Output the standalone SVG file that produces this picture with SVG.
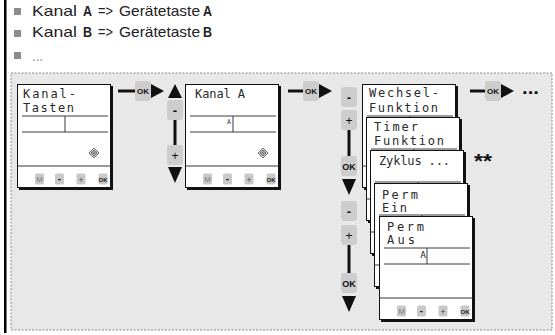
<svg xmlns="http://www.w3.org/2000/svg" width="555" height="335" viewBox="0 0 555 335">
<style>
.txt{font-family:"Liberation Sans",Arial,sans-serif;font-size:14.5px;font-weight:normal;fill:#222}
.b{font-weight:bold}
.bul{fill:#8c8c8c}
.lt{font-family:"DejaVu Sans Mono","Liberation Mono",monospace;font-size:12px;fill:#2a2a2a}
.ln{stroke:#3a3a3a;stroke-width:1;fill:none}
.btn{fill:#c9c9c9}
.bl{font-family:"Liberation Sans",Arial,sans-serif;font-size:8.5px;text-anchor:middle;fill:#222}
.badge{fill:#cdcdcd}
.bt{font-family:"Liberation Sans",Arial,sans-serif;text-anchor:middle;fill:#111;font-weight:bold}
.conn{stroke:#111;stroke-width:3;fill:none}
.tri{fill:#111}
</style>
<defs>
<g id="lcdBody">
<rect x="2" y="2" width="94" height="104" fill="#111"/>
<rect x="0.5" y="0.5" width="93" height="103" fill="#fff" stroke="#111" stroke-width="1"/>
<line class="ln" x1="5" y1="32" x2="91" y2="32"/>
<line class="ln" x1="5" y1="48" x2="91" y2="48"/>
<line class="ln" x1="48" y1="32" x2="48" y2="48"/>
<line x1="0" y1="82" x2="94" y2="82" stroke="#333" stroke-width="1.2"/>
</g>
<g id="lcdBtns">
<rect class="btn" x="18" y="89.5" width="9" height="11" rx="1.5"/>
<rect class="btn" x="38" y="89.5" width="9" height="11" rx="1.5"/>
<rect class="btn" x="59.5" y="89.5" width="9" height="11" rx="1.5"/>
<rect class="btn" x="81.5" y="89.5" width="9" height="11" rx="1.5"/>
<text class="bl" x="22.5" y="98" style="fill:#777;font-size:7.5px">M</text>
<text class="bl" x="42.5" y="98" style="font-weight:bold;font-size:10px">-</text>
<text class="bl" x="64" y="98.5" style="fill:#444">+</text>
<text class="bl" x="86" y="97.5" style="font-size:6px;font-weight:bold">OK</text>
</g>
<g id="diamond" fill="none" stroke="#333" stroke-width="0.7">
<path d="M0,-5 L5,0 L0,5 L-5,0 Z"/>
<circle r="2.4"/>
<path d="M0,-3.5 V3.5 M-3.5,0 H3.5"/>
</g>
<rect id="badge" class="badge" width="16" height="20" rx="3"/>
<path id="triR" class="tri" d="M0,-7 L13,0 L0,7 Z"/>
<path id="triU" class="tri" d="M-7,0 L0,-14 L7,0 Z"/>
<path id="triD" class="tri" d="M-7,0 L0,16 L7,0 Z"/>
</defs>

<rect x="4" y="0" width="2.5" height="333" fill="#000"/>

<g id="bullets">
<rect class="bul" x="14" y="8" width="7" height="7"/>
<text class="txt" x="32" y="16" textLength="45" lengthAdjust="spacingAndGlyphs">Kanal</text>
<text class="txt b" x="83" y="16" textLength="9" lengthAdjust="spacingAndGlyphs">A</text>
<text class="txt" x="98" y="16" textLength="15" lengthAdjust="spacingAndGlyphs">=&gt;</text>
<text class="txt" x="119" y="16" textLength="81" lengthAdjust="spacingAndGlyphs">Gerätetaste</text>
<text class="txt b" x="203" y="16" textLength="9" lengthAdjust="spacingAndGlyphs">A</text>
<rect class="bul" x="14" y="30" width="7" height="7"/>
<text class="txt" x="32" y="37" textLength="45" lengthAdjust="spacingAndGlyphs">Kanal</text>
<text class="txt b" x="83" y="37" textLength="9" lengthAdjust="spacingAndGlyphs">B</text>
<text class="txt" x="98" y="37" textLength="15" lengthAdjust="spacingAndGlyphs">=&gt;</text>
<text class="txt" x="119" y="37" textLength="81" lengthAdjust="spacingAndGlyphs">Gerätetaste</text>
<text class="txt b" x="203" y="37" textLength="9" lengthAdjust="spacingAndGlyphs">B</text>
<rect class="bul" x="14" y="52" width="7" height="7"/>
<text class="txt" x="32" y="61" style="fill:#888" textLength="11" lengthAdjust="spacingAndGlyphs">...</text>
</g>

<rect x="11" y="73" width="541" height="257" fill="#e8e8e8" stroke="#8a8a8a" stroke-width="1" stroke-dasharray="2,1.5"/>

<g id="kanal-tasten">
<use href="#lcdBody" transform="translate(17,84)"/>
<use href="#lcdBtns" transform="translate(17,84)"/>
<use href="#diamond" transform="translate(94,153)"/>
<text class="lt" x="23" y="98" textLength="53">Kanal-</text>
<text class="lt" x="23" y="112" textLength="51">Tasten</text>
</g>

<g id="kanal-a">
<use href="#lcdBody" transform="translate(185,84)"/>
<use href="#lcdBtns" transform="translate(185,84)"/>
<use href="#diamond" transform="translate(263,153)"/>
<text class="lt" x="195" y="98" textLength="50">Kanal A</text>
<text class="lt" x="231" y="123.5" style="font-size:6.5px;text-anchor:end">A</text>
</g>

<g id="wechsel-funktion">
<use href="#lcdBody" transform="translate(362,84)"/>
<text class="lt" x="369" y="97" textLength="70">Wechsel-</text>
<text class="lt" x="369" y="112" textLength="69">Funktion</text>
</g>

<g id="timer-funktion">
<use href="#lcdBody" transform="translate(366,117)"/>
<text class="lt" x="374" y="131" textLength="44">Timer</text>
<text class="lt" x="374" y="145" textLength="70">Funktion</text>
</g>

<g id="zyklus">
<use href="#lcdBody" transform="translate(370,150)"/>
<text class="lt" x="379" y="165" textLength="71">Zyklus ...</text>
</g>

<g id="perm-ein">
<use href="#lcdBody" transform="translate(374,183)"/>
<text class="lt" x="382" y="199" textLength="36">Perm</text>
<text class="lt" x="382" y="211.5" textLength="25">Ein</text>
</g>

<g id="perm-aus">
<use href="#lcdBody" transform="translate(379,216)"/>
<use href="#lcdBtns" transform="translate(379,216)"/>
<text class="lt" x="387" y="231" textLength="37">Perm</text>
<text class="lt" x="387" y="244" textLength="28">Aus</text>
<text class="lt" x="426" y="258" style="font-size:9.5px;text-anchor:end">A</text>
</g>

<text id="note" x="474" y="168" class="bt" style="text-anchor:start;font-size:20px" textLength="18" lengthAdjust="spacingAndGlyphs">**</text>

<g id="connectors">
<line class="conn" x1="118" y1="91" x2="136" y2="91"/>
<use href="#badge" x="135" y="81"/>
<text class="bt" x="143" y="94" style="font-size:8px">OK</text>
<use href="#triR" transform="translate(151,91)"/>

<use href="#triU" transform="translate(175,98)"/>
<use href="#badge" x="167" y="100"/>
<text class="bt" x="175" y="115" style="font-size:13px">-</text>
<line class="conn" x1="175" y1="120" x2="175" y2="146"/>
<use href="#badge" x="167" y="145"/>
<text class="bt" x="175" y="160" style="font-size:12px;font-weight:normal">+</text>
<use href="#triD" transform="translate(175,167)"/>

<line class="conn" x1="288" y1="91" x2="304" y2="91"/>
<use href="#badge" x="303" y="81"/>
<text class="bt" x="311" y="94" style="font-size:8px">OK</text>
<use href="#triR" transform="translate(319,91)"/>

<use href="#badge" x="341" y="87"/>
<text class="bt" x="349" y="102" style="font-size:13px">-</text>
<use href="#badge" x="341" y="110"/>
<text class="bt" x="349" y="125" style="font-size:12px;font-weight:normal">+</text>
<line class="conn" x1="349" y1="130" x2="349" y2="157"/>
<use href="#badge" x="341" y="156"/>
<text class="bt" x="349" y="169.5" style="font-size:9px">OK</text>
<use href="#triD" transform="translate(349,179)"/>

<use href="#badge" x="341" y="201"/>
<text class="bt" x="349" y="216" style="font-size:13px">-</text>
<use href="#badge" x="341" y="225"/>
<text class="bt" x="349" y="240" style="font-size:12px;font-weight:normal">+</text>
<line class="conn" x1="349" y1="245" x2="349" y2="274"/>
<use href="#badge" x="341" y="273"/>
<text class="bt" x="349" y="286.5" style="font-size:9px">OK</text>
<use href="#triD" transform="translate(349,296)"/>

<line class="conn" x1="470" y1="91" x2="486" y2="91"/>
<use href="#badge" x="485" y="81"/>
<text class="bt" x="493" y="94" style="font-size:8px">OK</text>
<use href="#triR" transform="translate(501,91)"/>
<text class="bt" x="522" y="94" style="text-anchor:start;font-size:18px" textLength="17" lengthAdjust="spacingAndGlyphs">...</text>
</g>
</svg>
